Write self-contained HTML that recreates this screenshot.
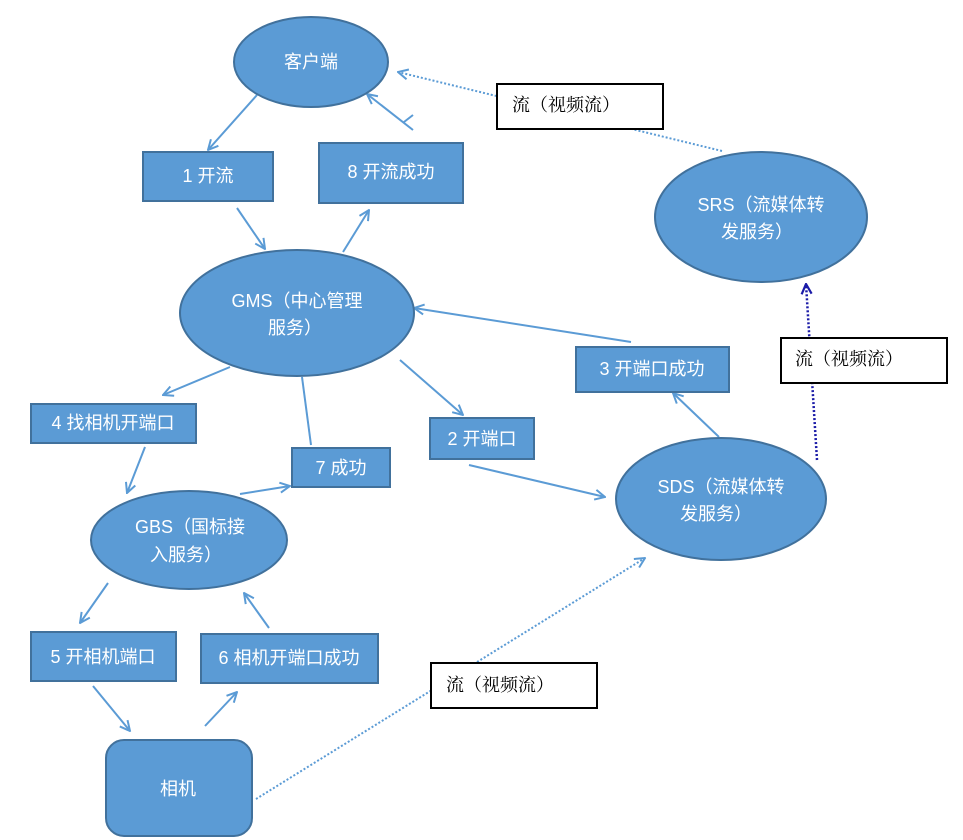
<!DOCTYPE html>
<html><head><meta charset="utf-8"><style>
html,body{margin:0;padding:0;background:#fff;}
svg{display:block;}
.w{fill:#fff;font-family:"Liberation Sans","Noto Sans CJK SC",sans-serif;font-size:18px;}
.b{fill:#000;font-family:"Liberation Serif","Noto Serif CJK SC",serif;font-size:18px;}
.sh{fill:#5b9bd5;stroke:#41719c;stroke-width:2;}
.ln{stroke:#5b9bd5;stroke-width:2;fill:none;}
</style></head><body>
<svg width="963" height="840" viewBox="0 0 963 840" xmlns="http://www.w3.org/2000/svg">
<defs>
<marker id="a" viewBox="0 0 12 12" refX="11" refY="6" markerWidth="12" markerHeight="12" markerUnits="userSpaceOnUse" orient="auto"><path d="M1,1 L11,6 L1,11" fill="none" stroke="#5b9bd5" stroke-width="2"/></marker>
<marker id="n" viewBox="0 0 12 12" refX="11" refY="6" markerWidth="12" markerHeight="12" markerUnits="userSpaceOnUse" orient="auto"><path d="M1,1 L11,6 L1,11" fill="none" stroke="#1c1ca8" stroke-width="2.2"/></marker>
</defs>

<!-- connectors -->
<line class="ln" x1="257" y1="95" x2="208" y2="150" marker-end="url(#a)"/>
<line class="ln" x1="237" y1="208" x2="265" y2="249" marker-end="url(#a)"/>
<line class="ln" x1="343" y1="252" x2="369" y2="210" marker-end="url(#a)"/>
<line class="ln" x1="413" y1="130" x2="367" y2="94" marker-end="url(#a)"/>
<line class="ln" x1="404" y1="122" x2="413" y2="115"/>
<line x1="722" y1="151" x2="398" y2="72" stroke="#5b9bd5" stroke-width="2" stroke-dasharray="2 2" marker-end="url(#a)"/>
<line class="ln" x1="230" y1="367" x2="163" y2="395" marker-end="url(#a)"/>
<line class="ln" x1="145" y1="447" x2="127" y2="493" marker-end="url(#a)"/>
<line class="ln" x1="302" y1="377" x2="311" y2="445"/>
<line class="ln" x1="240" y1="494" x2="290" y2="486" marker-end="url(#a)"/>
<line class="ln" x1="400" y1="360" x2="463" y2="415" marker-end="url(#a)"/>
<line class="ln" x1="631" y1="342" x2="414" y2="308" marker-end="url(#a)"/>
<line class="ln" x1="469" y1="465" x2="605" y2="497" marker-end="url(#a)"/>
<line class="ln" x1="719" y1="437" x2="673" y2="393" marker-end="url(#a)"/>
<line x1="817" y1="460" x2="806" y2="284" stroke="#1c1ca8" stroke-width="2.5" stroke-dasharray="2 2" marker-end="url(#n)"/>
<line class="ln" x1="108" y1="583" x2="80" y2="623" marker-end="url(#a)"/>
<line class="ln" x1="269" y1="628" x2="244" y2="593" marker-end="url(#a)"/>
<line class="ln" x1="93" y1="686" x2="130" y2="731" marker-end="url(#a)"/>
<line class="ln" x1="205" y1="726" x2="237" y2="692" marker-end="url(#a)"/>
<line x1="256" y1="799" x2="645" y2="558" stroke="#5b9bd5" stroke-width="2" stroke-dasharray="2 2" marker-end="url(#a)"/>

<!-- ellipses -->
<ellipse class="sh" cx="311" cy="62" rx="77" ry="45"/>
<text class="w" x="311" y="62" text-anchor="middle" dominant-baseline="central">客户端</text>

<ellipse class="sh" cx="297" cy="313" rx="117" ry="63"/>
<text class="w" x="297" y="301" text-anchor="middle" dominant-baseline="central">GMS（中心管理</text>
<text class="w" x="295" y="328" text-anchor="middle" dominant-baseline="central">服务）</text>

<ellipse class="sh" cx="189" cy="540" rx="98" ry="49"/>
<text class="w" x="190" y="527" text-anchor="middle" dominant-baseline="central">GBS（国标接</text>
<text class="w" x="186" y="555" text-anchor="middle" dominant-baseline="central">入服务）</text>

<ellipse class="sh" cx="721" cy="499" rx="105" ry="61"/>
<text class="w" x="721" y="487" text-anchor="middle" dominant-baseline="central">SDS（流媒体转</text>
<text class="w" x="716" y="514" text-anchor="middle" dominant-baseline="central">发服务）</text>

<ellipse class="sh" cx="761" cy="217" rx="106" ry="65"/>
<text class="w" x="761" y="205" text-anchor="middle" dominant-baseline="central">SRS（流媒体转</text>
<text class="w" x="757" y="232" text-anchor="middle" dominant-baseline="central">发服务）</text>

<!-- boxes -->
<rect class="sh" x="143" y="152" width="130" height="49"/>
<text class="w" x="208" y="176" text-anchor="middle" dominant-baseline="central">1 开流</text>

<rect class="sh" x="319" y="143" width="144" height="60"/>
<text class="w" x="391" y="172" text-anchor="middle" dominant-baseline="central">8 开流成功</text>

<rect class="sh" x="31" y="404" width="165" height="39"/>
<text class="w" x="113" y="423" text-anchor="middle" dominant-baseline="central">4 找相机开端口</text>

<rect class="sh" x="292" y="448" width="98" height="39"/>
<text class="w" x="341" y="468" text-anchor="middle" dominant-baseline="central">7 成功</text>

<rect class="sh" x="430" y="418" width="104" height="41"/>
<text class="w" x="482" y="439" text-anchor="middle" dominant-baseline="central">2 开端口</text>

<rect class="sh" x="576" y="347" width="153" height="45"/>
<text class="w" x="652" y="369" text-anchor="middle" dominant-baseline="central">3 开端口成功</text>

<rect class="sh" x="31" y="632" width="145" height="49"/>
<text class="w" x="103" y="657" text-anchor="middle" dominant-baseline="central">5 开相机端口</text>

<rect class="sh" x="201" y="634" width="177" height="49"/>
<text class="w" x="289" y="658" text-anchor="middle" dominant-baseline="central">6 相机开端口成功</text>

<rect class="sh" x="106" y="740" width="146" height="96" rx="18" ry="18"/>
<text class="w" x="178" y="789" text-anchor="middle" dominant-baseline="central">相机</text>

<!-- white label boxes -->
<rect x="497" y="84" width="166" height="45" fill="#fff" stroke="#000" stroke-width="2"/>
<text class="b" x="512" y="105" dominant-baseline="central">流（视频流）</text>

<rect x="781" y="338" width="166" height="45" fill="#fff" stroke="#000" stroke-width="2"/>
<text class="b" x="795" y="359" dominant-baseline="central">流（视频流）</text>

<rect x="431" y="663" width="166" height="45" fill="#fff" stroke="#000" stroke-width="2"/>
<text class="b" x="446" y="685" dominant-baseline="central">流（视频流）</text>
</svg>
</body></html>
